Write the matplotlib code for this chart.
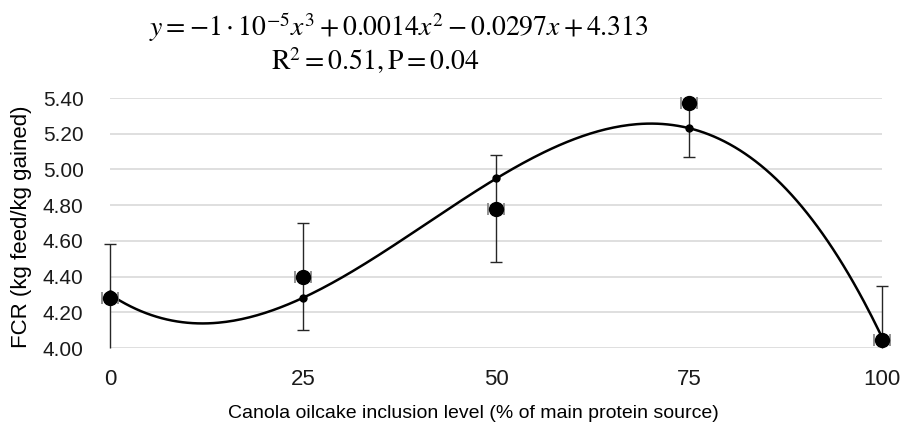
import numpy as np
import matplotlib.pyplot as plt

plt.rcParams['font.family'] = ['Liberation Sans', 'DejaVu Sans']
plt.rcParams['mathtext.fontset'] = 'stix'

# inclusion level (% of main protein source)
levels = [0, 25, 50, 75, 100]
# measured FCR means and their SD
fcr_mean = [4.28, 4.40, 4.78, 5.37, 4.045]
fcr_sd = [0.30, 0.30, 0.30, 0.30, 0.30]
x_err = [1.1, 1.1, 1.1, 1.1, 1.1]
# predicted values on the cubic trendline
fcr_pred = [4.30, 4.28, 4.95, 5.23, 4.06]

y_lo, y_hi = 4.0, 5.4

fig = plt.figure(figsize=(9.04, 4.28), dpi=100)
ax = fig.add_axes([110 / 904, 1 - 348 / 428, 772 / 904, 250 / 428])

# cubic trendline through predicted values
coef = np.polyfit(levels, fcr_pred, 3)
xs = np.linspace(0, 100, 300)
ax.plot(xs, np.polyval(coef, xs), color='black', lw=1.8, zorder=3)

# error bars are cut at the plot limits (no cap where cut), not at the sides
for x, m, s in zip(levels, fcr_mean, fcr_sd):
    lo = min(s, m - y_lo)
    hi = min(s, y_hi - m)
    ax.errorbar([x], [m], yerr=[[lo], [0]], fmt='none', ecolor='#262626',
                elinewidth=1.0, capthick=1.0, capsize=4 if lo == s else 0,
                zorder=2, clip_on=False)
    ax.errorbar([x], [m], yerr=[[0], [hi]], fmt='none', ecolor='#262626',
                elinewidth=1.0, capthick=1.0, capsize=4 if hi == s else 0,
                zorder=2, clip_on=False)
ax.errorbar(levels, fcr_mean, xerr=x_err, fmt='none', ecolor='#7f7f7f',
            elinewidth=1.0, capsize=4, capthick=1.2, zorder=4, clip_on=False)
ax.plot(levels, fcr_mean, 'o', color='black', ms=10, zorder=5, clip_on=False)
ax.plot(levels, fcr_pred, 'o', color='black', ms=5, zorder=5, clip_on=False)

ax.set_xlim(0, 100)
ax.set_ylim(y_lo, y_hi)
ax.set_xticks(levels)
yt = np.arange(4.0, 5.41, 0.2)
ax.set_yticks(yt)
ax.set_yticklabels([f'{v:.2f}' for v in yt])
ax.tick_params(length=0, colors='#1a1a1a')
ax.tick_params(axis='x', pad=15, labelsize=16)
ax.tick_params(axis='y', pad=19, labelsize=15)
for s in ax.spines.values():
    s.set_visible(False)
ax.grid(axis='y', color='#d9d9d9', lw=1.2)
ax.set_axisbelow(True)

ax.set_xlabel('Canola oilcake inclusion level (% of main protein source)',
              fontsize=14)
ax.xaxis.set_label_coords((473 - 110) / 772, -(413 - 348) / 250)
ax.xaxis.label.set_va('center')
ax.set_ylabel('FCR (kg feed/kg gained)', fontsize=16)
ax.yaxis.set_label_coords(-(110 - 22) / 772, (348 - 227) / 250)
ax.yaxis.label.set_va('center')

fig.text(399 / 904, 1 - 27 / 428,
         r'$y = -1\cdot10^{-5}x^3 + 0.0014x^2 - 0.0297x + 4.313$',
         ha='center', va='center', fontsize=20)
fig.text(375 / 904, 1 - 61 / 428, r'$\mathrm{R}^2 = 0.51, \mathrm{P} = 0.04$',
         ha='center', va='center', fontsize=20)

fig.savefig('out.png', dpi=100)
